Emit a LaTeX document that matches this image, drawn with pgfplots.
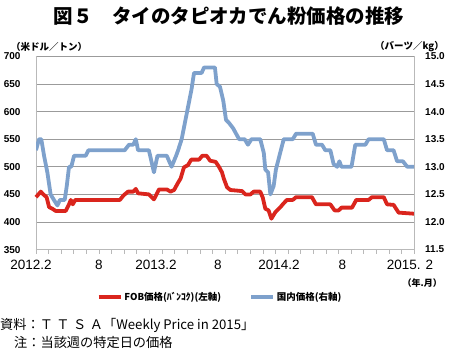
\documentclass[border=0pt]{standalone}
\usepackage{fontspec}
\setmainfont{Liberation Sans}
\newfontfamily\jp{Noto Sans CJK JP}
\usepackage{pgfplots}
\pgfplotsset{compat=1.18}
\definecolor{fobred}{RGB}{218,37,29}
\definecolor{dblue}{RGB}{126,161,204}
\definecolor{gridgray}{RGB}{155,155,155}
\definecolor{axgray}{RGB}{185,185,185}
\begin{document}
\begin{tikzpicture}
\path (0pt,0pt) rectangle (450pt,351pt);
\node[font=\jp\bfseries\fontsize{19.5}{20}\selectfont] at (229pt,335pt) {図５　タイのタピオカでん粉価格の推移};
\node[font=\jp\bfseries\fontsize{9.5}{10}\selectfont, anchor=west, inner sep=0pt] at (11pt,304.5pt) {（米ドル／トン）};
\node[font=\jp\bfseries\fontsize{9.5}{10}\selectfont, anchor=east, inner sep=0pt] at (444pt,304.5pt) {（バーツ／kg）};
\node[font=\jp\bfseries\fontsize{9}{10}\selectfont, anchor=east, inner sep=0pt] at (442pt,68pt) {（年.月）};
\node[font=\jp\fontsize{13.2}{14}\selectfont, anchor=west, inner sep=0pt] at (0pt,26pt) {資料：Ｔ\hspace{3.5pt}Ｔ\hspace{3.5pt}Ｓ\hspace{3.5pt}Ａ「Weekly Price in 2015」};
\node[font=\jp\fontsize{13.2}{14}\selectfont, anchor=west, inner sep=0pt] at (14pt,8pt) {注：当該週の特定日の価格};
\begin{axis}[at={(36pt,101.4pt)}, anchor=south west, scale only axis,
  width=378pt, height=193.2pt,
  xmin=0, xmax=150, ymin=350, ymax=700,
  ytick={350,400,450,500,550,600,650,700},
  ymajorgrids, grid style={gridgray, line width=0.8pt},
  xtick={0,5,...,150}, xticklabels={},
  tick align=outside, major tick length=4pt,
  xtick style={axgray, line width=0.6pt},
  ytick style={draw=none},
  axis line style={axgray, line width=0.8pt},
  axis x line*=bottom, axis y line*=left,
  clip=false,
  yticklabel style={font=\bfseries\fontsize{10}{10}\selectfont, xshift=-8pt},
  /pgf/number format/assume math mode=true,
  legend columns=2,
  legend style={at={(0.487,-0.245)}, anchor=center, draw=none, fill=none,
    font=\jp\bfseries\fontsize{9.5}{10}\selectfont,
    /tikz/every even column/.append style={column sep=26pt}},
  legend image code/.code={\draw[#1, line width=3.8pt] (0pt,0pt) -- (22pt,0pt);},
]
\addplot[fobred, line width=3.8pt, line join=round] coordinates {
(0,445) (1.9,455) (2.9,450) (4.2,445) (5.2,427) (6.5,424) (7.8,420) (11.8,420)
(13.1,432) (13.8,440) (14.6,432) (15.6,440) (33.3,440) (34.7,448) (36.5,455)
(38.6,455) (39.6,460) (40.5,452) (44.8,450) (46.8,441) (48.8,459) (51.9,459)
(53.4,455) (54.8,458) (56.1,469) (57.4,479) (58.7,499) (60.3,503) (61.6,513)
(64.7,513) (66,520) (67.7,520) (69.1,511) (71.3,509) (72.6,500) (73.8,490)
(74.5,479) (75.8,463) (77.1,458) (81.8,456) (83.1,450) (85.1,450) (86.4,455)
(89,455) (90,444) (91,424) (92.3,421) (93.4,406) (95,418) (97,427) (98.3,434)
(99.6,440) (101.9,440) (103.2,445) (109.5,445) (111.1,432) (116.8,432)
(118.5,421) (120.1,421) (121.2,426) (125.4,426) (127.1,440) (132,440)
(133.3,445) (138,445) (139.3,432) (141.9,431) (143.9,417) (150,415)
};
\addlegendentry{FOB価格(ﾊﾞﾝｺｸ)(左軸)}
\addlegendimage{dblue}
\addlegendentry{国内価格(右軸)}
\node[font=\fontsize{13.5}{14}\selectfont] at (axis cs:-2,350) [yshift=-15.5pt] {2012.2};
\node[font=\fontsize{13.5}{14}\selectfont] at (axis cs:25,350) [yshift=-15.5pt] {8};
\node[font=\fontsize{13.5}{14}\selectfont] at (axis cs:47.6,350) [yshift=-15.5pt] {2013.2};
\node[font=\fontsize{13.5}{14}\selectfont] at (axis cs:72.2,350) [yshift=-15.5pt] {8};
\node[font=\fontsize{13.5}{14}\selectfont] at (axis cs:96.4,350) [yshift=-15.5pt] {2014.2};
\node[font=\fontsize{13.5}{14}\selectfont] at (axis cs:121.6,350) [yshift=-15.5pt] {8};
\node[font=\fontsize{13.5}{14}\selectfont] at (axis cs:148.4,350) [yshift=-15.5pt] {2015. 2};
\end{axis}
\begin{axis}[at={(36pt,101.4pt)}, anchor=south west, scale only axis,
  width=378pt, height=193.2pt,
  xmin=0, xmax=150, ymin=11.5, ymax=15,
  ytick={11.5,12,12.5,13,13.5,14,14.5,15},
  axis y line*=right, axis x line=none,
  axis line style={axgray, line width=0.8pt},
  ytick style={draw=none},
  yticklabel style={font=\bfseries\fontsize{10}{10}\selectfont, xshift=7.7pt,
    /pgf/number format/.cd, fixed, fixed zerofill, precision=1},
  /pgf/number format/assume math mode=true,
]
\addplot[dblue, line width=3.8pt, line join=round] coordinates {
(0,13.3) (1.2,13.5) (2.1,13.5) (3.2,13.2) (4.5,12.9) (5.8,12.5) (7.1,12.4)
(8.5,12.3) (9.5,12.4) (11.4,12.4) (12.2,12.65) (13.1,13.0) (14,13.0) (15.1,13.2)
(19.7,13.2) (20.8,13.3) (35.2,13.3) (36.9,13.4) (38.6,13.4) (39.6,13.5)
(40.5,13.3) (44.8,13.3) (45.8,13.1) (46.8,12.9) (48.2,13.2) (51.9,13.2)
(53.8,13.0) (55.6,13.2) (56.4,13.3) (57.8,13.5) (59.1,13.8) (60.4,14.1)
(61.7,14.4) (62.7,14.7) (65.7,14.7) (66.7,14.8) (71.0,14.8) (71.7,14.5)
(73,14.45) (74.3,14.2) (75.4,13.85) (76.5,13.8) (78.2,13.7) (80.6,13.5)
(82.8,13.5) (84.1,13.4) (85.5,13.5) (89,13.5) (90.4,13.25) (91,12.95)
(92.1,12.9) (93,12.5) (94.3,12.65) (95.2,12.95) (96.6,13.2) (98.3,13.5)
(101.9,13.5) (103.2,13.6) (109.8,13.6) (111.1,13.4) (113.5,13.4) (114.8,13.3)
(116.8,13.3) (118.1,13.05) (119.5,13.0) (120.4,13.1) (121.2,13.0) (125.2,13.0)
(126.7,13.4) (130.7,13.4) (132,13.5) (138,13.5) (139.3,13.3) (141.9,13.3)
(143.3,13.1) (145.6,13.1) (147.3,13.0) (150,13.0)
};
\end{axis}
\end{tikzpicture}
\end{document}
